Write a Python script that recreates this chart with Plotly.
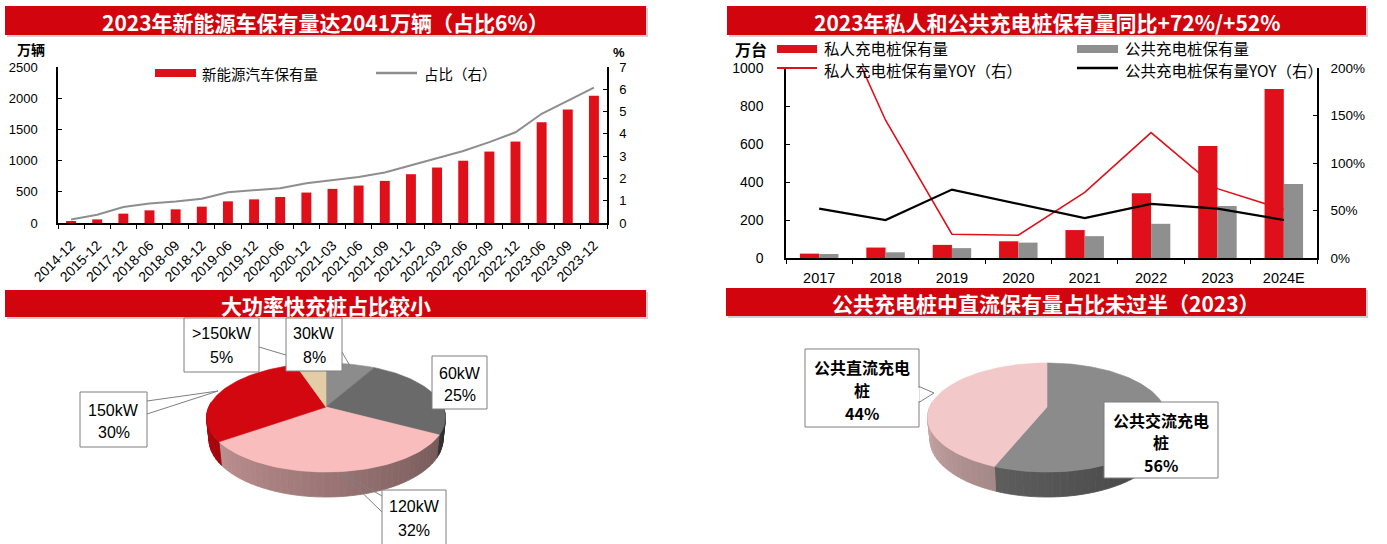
import numpy as np
import plotly.graph_objects as go

# ---------------- data ----------------
nev_periods = ["2014-12", "2015-12", "2017-12", "2018-06", "2018-09", "2018-12", "2019-06",
               "2019-12", "2020-06", "2020-12", "2021-03", "2021-06", "2021-09", "2021-12",
               "2022-03", "2022-06", "2022-09", "2022-12", "2023-06", "2023-09", "2023-12"]
nev_stock = [25, 58, 150, 203, 219, 262, 347, 379, 417, 488, 547, 600, 675, 782, 889, 998,
             1145, 1305, 1615, 1818, 2041]
nev_share = [0.16, 0.37, 0.72, 0.88, 0.96, 1.09, 1.38, 1.47, 1.56, 1.78, 1.91, 2.06, 2.27,
             2.60, 2.90, 3.23, 3.63, 4.07, 4.90, 5.50, 6.07]

pile_years = ["2017", "2018", "2019", "2020", "2021", "2022", "2023", "2024E"]
private_piles = [23, 55, 69, 88, 147, 341, 590, 890]
public_piles = [21, 30, 52, 81, 115, 180, 274, 389]
private_yoy = [300, 145, 25, 24, 69, 132, 73, 51]
public_yoy = [52, 40, 72, 57, 42, 57, 52, 40]

power_labels = ["30kW", "60kW", "120kW", "150kW", ">150kW"]
power_share = [8, 25, 32, 30, 5]

dcac_labels = ["公共交流充电桩", "公共直流充电桩"]
dcac_share = [56, 44]

# ---------------- styles ----------------
W, H = 1387, 544
RED = "#E0101A"
BANNER = "#D2050F"
GRAY_BAR = "#8F8F8F"
CJK = "Noto Sans CJK SC"
LAT = "Liberation Sans, Arial, Noto Sans CJK SC, sans-serif"

power_colors = ["#8C8C8C", "#6A6A6A", "#F9BDBD", "#D2070F", "#E3CDA6"]
dcac_colors = ["#8B8B8B", "#F3C8C8"]

fig = go.Figure()

# ---------------- top-left: NEV stock ----------------
fig.add_trace(go.Bar(x=nev_periods, y=nev_stock, marker=dict(color=RED, line=dict(width=0)),
                     width=0.38, xaxis="x", yaxis="y", showlegend=False))
fig.add_trace(go.Scatter(x=nev_periods, y=nev_share, mode="lines",
                         line=dict(color="#8E8E8E", width=2), xaxis="x", yaxis="y2",
                         showlegend=False))

# ---------------- top-right: charging piles ----------------
fig.add_trace(go.Bar(x=pile_years, y=private_piles, marker=dict(color=RED, line=dict(width=0)),
                     width=0.29, offset=-0.29, xaxis="x3", yaxis="y3", showlegend=False))
fig.add_trace(go.Bar(x=pile_years, y=public_piles, marker=dict(color=GRAY_BAR, line=dict(width=0)),
                     width=0.29, offset=0.0, xaxis="x3", yaxis="y3", showlegend=False))
fig.add_trace(go.Scatter(x=pile_years, y=private_yoy, mode="lines",
                         line=dict(color=RED, width=1.6), xaxis="x3", yaxis="y4",
                         showlegend=False))
fig.add_trace(go.Scatter(x=pile_years, y=public_yoy, mode="lines",
                         line=dict(color="black", width=2.2), xaxis="x3", yaxis="y4",
                         showlegend=False))

# ---------------- 3D pies (pixel axes x5/y5) ----------------
K, EL = 544.0, np.radians(26.6)
CE, SE = np.cos(EL), np.sin(EL)
DIST = 4.64
DEPTH = 0.21


def proj(cx, cy, theta_deg, Y=0.0):
    t = np.radians(np.asarray(theta_deg, dtype=float))
    X, Z = np.sin(t), np.cos(t)
    yc = Y * CE + Z * SE
    d = DIST + Z * CE - Y * SE
    return cx + K * X / d, cy - K * yc / d


def shade(hexcol, f):
    h = hexcol.lstrip("#")
    r, g, b = (int(h[i:i + 2], 16) for i in (0, 2, 4))
    return "rgb(%d,%d,%d)" % (min(255, r * f), min(255, g * f), min(255, b * f))


def pie3d(cx, cy, shares, colors):
    total = float(sum(shares))
    bounds = np.cumsum([0] + list(shares)) / total * 360.0
    # side walls
    for i in range(len(shares)):
        lo, hi = max(bounds[i], 85.0), min(bounds[i + 1], 275.0)
        if hi <= lo:
            continue
        n = int(np.ceil((hi - lo) / 3.0))
        edges = np.linspace(lo, hi, n + 1)
        for j in range(n):
            t = np.linspace(edges[j], edges[j + 1], 4)
            xt, yt = proj(cx, cy, t, 0.0)
            xb, yb = proj(cx, cy, t[::-1], -DEPTH)
            mid = 0.5 * (edges[j] + edges[j + 1])
            f = 0.40 + 0.45 * (mid - 90.0) / 180.0
            col = shade(colors[i], f)
            fig.add_trace(go.Scatter(x=np.r_[xt, xb, xt[0]], y=np.r_[yt, yb, yt[0]],
                                     fill="toself", fillcolor=col, mode="lines",
                                     line=dict(color=col, width=0.8),
                                     xaxis="x5", yaxis="y5", hoverinfo="skip",
                                     showlegend=False))
    # top faces
    for i in range(len(shares)):
        a0, a1 = bounds[i], bounds[i + 1]
        t = np.linspace(a0, a1, max(4, int((a1 - a0) / 1.5)))
        xt, yt = proj(cx, cy, t, 0.0)
        fig.add_trace(go.Scatter(x=np.r_[cx, xt, cx], y=np.r_[cy, yt, cy],
                                 fill="toself", fillcolor=colors[i], mode="lines",
                                 line=dict(color=colors[i], width=0.6),
                                 xaxis="x5", yaxis="y5", hoverinfo="skip", showlegend=False))


pie3d(326, 407, power_share, power_colors)
pie3d(1047, 407, dcac_share, dcac_colors)

# ---------------- shapes & annotations (pixel coords) ----------------
shapes = []
ann = []


def rect(x0, y0, x1, y1, fill, line_color=None, lw=0):
    shapes.append(dict(type="rect", xref="x5", yref="y5", x0=x0, y0=y0, x1=x1, y1=y1,
                       fillcolor=fill, line=dict(color=line_color or fill, width=lw)))


def seg(x0, y0, x1, y1, color, w):
    shapes.append(dict(type="line", xref="x5", yref="y5", x0=x0, y0=y0, x1=x1, y1=y1,
                       line=dict(color=color, width=w)))


def text(x, y, s, size, family=CJK, color="black", xanchor="center", bold=False):
    ann.append(dict(x=x, y=y, xref="x5", yref="y5", text=("<b>%s</b>" % s) if bold else s,
                    showarrow=False, xanchor=xanchor, yanchor="middle",
                    font=dict(family=family, size=size, color=color)))


# banners
banners = [
    (5, 6, 646, 35, "2023年新能源车保有量达2041万辆（占比6%）"),
    (727, 6, 1366, 35, "2023年私人和公共充电桩保有量同比+72%/+52%"),
    (5, 290, 646, 317, "大功率快充桩占比较小"),
    (726, 288, 1366, 316, "公共充电桩中直流保有量占比未过半（2023）"),
]
for x0, y0, x1, y1, t in banners:
    rect(x0 + 2, y0 + 2, x1 + 2, y1 + 2, "rgba(150,150,150,0.45)")
    rect(x0, y0, x1, y1, BANNER)
    text((x0 + x1) / 2, (y0 + y1) / 2 + 1, t, 21, color="white", bold=True)

# top-left legend & units
rect(155, 69, 196, 77, RED)
text(200, 73, "新能源汽车保有量", 14.5, xanchor="left")
seg(376, 73, 417, 73, "#8E8E8E", 2.5)
text(422, 73, "占比（右）", 14.5, xanchor="left")
text(31, 49, "万辆", 14, bold=True)
text(619, 52, "%", 13, family=LAT, bold=True)

# top-right legend & units
rect(777, 45, 817, 53, RED)
text(822, 48, "私人充电桩保有量", 15.5, xanchor="left")
rect(1077, 45, 1118, 53, GRAY_BAR)
text(1123, 48, "公共充电桩保有量", 15.5, xanchor="left")
seg(777, 68, 817, 68, RED, 2)
text(822, 70, "私人充电桩保有量YOY（右）", 15.5, xanchor="left")
seg(1077, 68, 1118, 68, "black", 2.5)
text(1123, 70, "公共充电桩保有量YOY（右）", 15.5, xanchor="left")
text(751, 49, "万台", 16, bold=True)

# pie 1 leader lines
LC = "#808080"
seg(147, 401, 218, 391, LC, 1)
seg(147, 414, 218, 391, LC, 1)
seg(259, 347, 306, 361, LC, 1)
seg(342, 352, 350, 366, LC, 1)
seg(382, 496, 342, 473, LC, 1)
seg(382, 512, 342, 473, LC, 1)

# pie 1 label boxes
pie1_boxes = {
    "30kW": (286, 318, 342, 371),
    "60kW": (432, 356, 487, 409),
    "120kW": (382, 490, 446, 550),
    "150kW": (80, 392, 147, 447),
    ">150kW": (184, 318, 259, 372),
}
pie1_lines = {
    "30kW": (333, 357),
    "60kW": (373, 395),
    "120kW": (506, 530),
    "150kW": (410, 432),
    ">150kW": (333, 357),
}
for lab, sh in zip(power_labels, power_share):
    x0, y0, x1, y1 = pie1_boxes[lab]
    rect(x0, y0, x1, y1, "white", "#7F7F7F", 1)
    ya, yb = pie1_lines[lab]
    text((x0 + x1) / 2, ya, lab, 16, family=LAT)
    text((x0 + x1) / 2, yb, "%d%%" % sh, 16, family=LAT)

# pie 2 label boxes
pie2_boxes = {
    "公共交流充电桩": ((1104, 402, 1218, 478), (420, 442, 465)),
    "公共直流充电桩": ((805, 349, 919, 427), (367, 390, 413)),
}
shapes.append(dict(type="path", xref="x5", yref="y5",
                   path="M 918,386 L 934,393 L 918,403 Z",
                   fillcolor="white", line=dict(color="#7F7F7F", width=1)))
for lab, sh in zip(dcac_labels, dcac_share):
    (x0, y0, x1, y1), ys = pie2_boxes[lab]
    rect(x0, y0, x1, y1, "white", "#7F7F7F", 1)
    cxl = (x0 + x1) / 2
    text(cxl, ys[0], lab[:6], 16, bold=True)
    text(cxl, ys[1], lab[6:], 16, bold=True)
    text(cxl, ys[2], "%d%%" % sh, 16, bold=True)
# cover the box edge where the callout attaches
seg(918.5, 388, 918.5, 401, "white", 2)

# ---------------- axes ----------------
tickfont = dict(family=LAT, size=13, color="black")
base = dict(showgrid=False, zeroline=False, showline=True, linecolor="black", linewidth=1.5,
            ticklen=4, tickcolor="black", tickwidth=1.2, tickfont=tickfont, fixedrange=True,
            automargin=False)

layout_axes = dict(
    xaxis=dict(base, domain=[58 / W, 607 / W], anchor="y", type="category", ticks="outside",
               tickson="boundaries", tickangle=-45, ticklabelstandoff=7,
               tickfont=dict(family=LAT, size=14, color="black")),
    yaxis=dict(base, domain=[1 - 223 / H, 1 - 67 / H], anchor="x", range=[0, 2500], dtick=500,
               ticks="inside", ticklabelstandoff=16),
    yaxis2=dict(base, overlaying="y", side="right", anchor="x", range=[0, 7], dtick=1,
                ticks="inside", ticklabelstandoff=8),
    xaxis3=dict(base, domain=[786 / W, 1317 / W], anchor="y3", type="category", ticks="outside",
                tickson="boundaries", ticklabelstandoff=6,
                tickfont=dict(family=LAT, size=14.5, color="black")),
    yaxis3=dict(base, domain=[1 - 258 / H, 1 - 68 / H], anchor="x3", range=[0, 1000],
                dtick=200, ticks="inside", ticklabelstandoff=18,
                tickfont=dict(family=LAT, size=14, color="black")),
    yaxis4=dict(base, overlaying="y3", side="right", anchor="x3", range=[0, 200], dtick=50,
                ticksuffix="%", ticks="inside", ticklabelstandoff=9,
                tickfont=dict(family=LAT, size=13.5, color="black")),
    xaxis5=dict(domain=[0, 1], range=[0, W], visible=False, fixedrange=True, anchor="y5",
                automargin=False),
    yaxis5=dict(domain=[0, 1], range=[H, 0], visible=False, fixedrange=True, anchor="x5",
                automargin=False),
)

fig.update_layout(
    width=W, height=H, margin=dict(l=0, r=0, t=0, b=0, pad=0, autoexpand=False),
    autosize=False,
    paper_bgcolor="white", plot_bgcolor="rgba(0,0,0,0)",
    barmode="overlay", showlegend=False,
    shapes=shapes, annotations=ann,
    **layout_axes,
)

fig.write_html("out.html")
